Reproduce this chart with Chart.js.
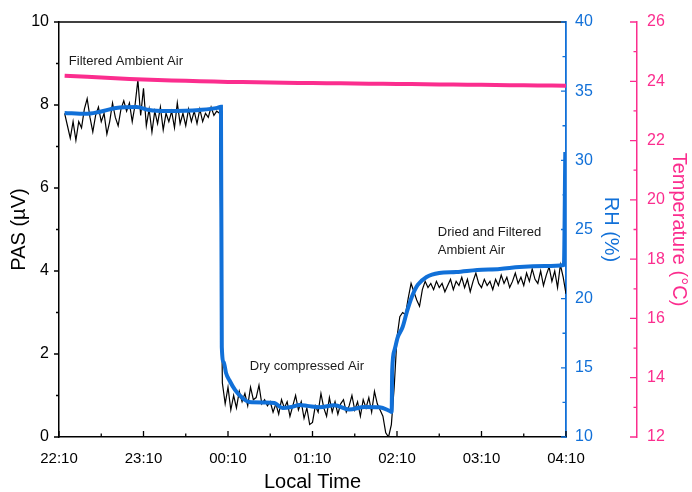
<!DOCTYPE html>
<html>
<head>
<meta charset="utf-8">
<script src="https://cdn.jsdelivr.net/npm/chart.js@4/dist/chart.umd.min.js"></script>
<style>
  body { margin: 0; background: #fff; }
  canvas { display: block; }
</style>
</head>
<body>
<canvas id="pasChart" width="692" height="492"></canvas>
<script>
// Time axis: minutes since 22:10
const timeLabels = ["22:10", "23:10", "00:10", "01:10", "02:10", "03:10", "04:10"];

// PAS signal (µV), one reading every 2 min starting at minute 4
const pasStartMin = 4;
const pasStepMin = 2;
const pasValues = [
  // filtered ambient air
  7.8, 7.5, 7.2, 7.6, 7.15, 7.6, 7.45, 7.9, 8.15, 7.7,
  7.35, 7.75, 7.95, 7.6, 7.8, 7.3, 7.6, 8.05, 7.7, 7.5,
  7.9, 8.1, 7.85, 8.05, 7.6, 8.0, 8.6, 7.75, 8.4, 7.5,
  7.9, 7.35, 7.85, 7.55, 7.95, 7.4, 7.8, 7.6, 7.85, 7.45,
  8.05, 7.55, 7.8, 7.5, 7.9, 7.6, 7.85, 7.55, 7.9, 7.6,
  7.8, 7.7, 7.95, 7.75, 7.85, 7.8,
  // dry compressed air
  1.3, 0.8, 1.2, 0.65, 1.0, 0.7, 1.1, 0.85, 1.05, 0.75,
  1.2, 0.9, 0.95, 1.25, 0.8, 0.9, 0.75, 0.85, 0.6, 0.8,
  0.55, 0.9, 0.7, 0.85, 0.5, 0.75, 1.0, 0.65, 0.85, 0.45,
  0.7, 0.3, 0.35, 0.75, 0.6, 1.05, 0.7, 0.5, 0.95, 0.6,
  0.85, 0.55, 0.8, 0.9, 0.6, 0.75, 1.0, 0.65, 0.85, 0.5,
  0.9, 0.7, 0.95, 0.6, 1.1, 0.8, 0.65, 0.5, 0.1, 0.0,
  0.3,
  // dried and filtered ambient air
  1.2, 2.4, 2.9, 3.0, 2.95, 3.35, 3.7, 3.5, 3.3, 3.15,
  3.55, 3.75, 3.6, 3.7, 3.55, 3.75, 3.6, 3.7, 3.5, 3.65,
  3.8, 3.55, 3.75, 3.65, 3.85, 3.6, 3.8, 3.5, 3.75, 3.95,
  3.7, 3.6, 3.8, 3.65, 3.75, 3.55, 3.8, 3.65, 3.9, 3.7,
  3.85, 3.6, 3.75, 3.95, 3.7, 3.85, 3.65, 3.95, 3.75, 4.05,
  3.8, 3.7, 4.0, 3.65, 3.9, 4.1, 3.75, 4.0, 3.6, 4.15,
  3.85, 3.45,
];

// Relative humidity (%)
const rhTimes = [
  4, 19, 28.5, 40.5, 55, 64, 76, 100, 112.4, 115,
  115.6, 117, 118.6, 121, 125, 128, 131, 135, 146, 153,
  158.7, 165, 170.7, 176.4, 185, 195.6, 206, 217, 227.7, 234.8,
  236.2, 236.6, 238.3, 240.5, 244, 247, 250.5, 254.7, 261, 270,
  282, 297, 313, 327, 345, 358.5, 359.5,
];
const rhValues = [
  33.43, 33.36, 33.5, 33.79, 33.86, 33.64, 33.57, 33.64, 33.79, 33.88,
  16.5, 15.4, 14.63, 14.1, 13.4, 13.04, 12.75, 12.53, 12.5, 12.46,
  12.1, 12.17, 12.31, 12.25, 12.15, 12.3, 11.98, 12.17, 12.15, 11.88,
  11.81, 14.84, 16.3, 17.2, 17.95, 19.04, 20.12, 20.99, 21.57, 21.86,
  21.93, 22.08, 22.15, 22.29, 22.36, 22.44, 30.6,
];

// Temperature (°C)
const tempTimes = [4, 20, 40, 60, 80, 100, 120, 140, 160, 180, 200, 220, 240, 260, 280, 300, 320, 340, 360];
const tempValues = [
  24.19, 24.15, 24.1, 24.06, 24.03, 24.0, 23.98, 23.97, 23.95, 23.94,
  23.93, 23.92, 23.91, 23.9, 23.89, 23.88, 23.87, 23.86, 23.85,
];

// Text notes, anchored at (minute, PAS value)
const notes = [
  { text: "Filtered Ambient Air", t: 7, pas: 9.04 },
  { text: "Dry compressed Air", t: 135.5, pas: 1.71 },
  { text: "Dried and Filtered", t: 269, pas: 4.92 },
  { text: "Ambient Air", t: 269, pas: 4.5 },
];

const BLUE = "#1170d8";
const PINK = "#fb2d8e";
const FONT = "'Liberation Sans', Arial, sans-serif";

Chart.defaults.font.family = FONT;
Chart.defaults.color = "#000";

const pasPoints = pasValues.map((v, i) => ({ x: pasStartMin + i * pasStepMin, y: v }));
const rhPoints = rhTimes.map((t, i) => ({ x: t, y: rhValues[i] }));
const tempPoints = tempTimes.map((t, i) => ({ x: t, y: tempValues[i] }));

// tick marks drawn by hand: inward / outward per axis, with minor ticks
const tickSpecs = [
  { id: "x", step: 30, majorEvery: 60, len: 6, minorLen: 3.5, color: "#000", side: "up" },
  { id: "y", step: 1, majorEvery: 2, len: 5, minorLen: 3, color: "#000", side: "left" },
  { id: "rh", step: 2.5, majorEvery: 5, len: 5, minorLen: 3.5, color: BLUE, side: "left" },
  { id: "temp", step: 1, majorEvery: 2, len: 7, minorLen: 3.5, color: PINK, side: "left" },
];

const axisDecor = {
  id: "axisDecor",
  afterDraw(chart) {
    const { ctx, chartArea, scales } = chart;
    ctx.save();
    // top frame
    ctx.strokeStyle = "#000";
    ctx.lineWidth = 1.5;
    ctx.beginPath();
    ctx.moveTo(chartArea.left, chartArea.top);
    ctx.lineTo(chartArea.right, chartArea.top);
    ctx.stroke();

    tickSpecs.forEach((spec) => {
      const scale = scales[spec.id];
      ctx.strokeStyle = spec.color;
      ctx.lineWidth = 1.3;
      ctx.beginPath();
      for (let v = scale.min; v <= scale.max + 1e-6; v += spec.step) {
        const isMajor = Math.abs((v - scale.min) % spec.majorEvery) < 1e-6;
        const len = isMajor ? spec.len : spec.minorLen;
        const p = scale.getPixelForValue(v);
        if (spec.side === "up") {
          ctx.moveTo(p, scale.top);
          ctx.lineTo(p, scale.top - len);
        } else {
          const x0 = spec.id === "y" ? scale.right : scale.left;
          ctx.moveTo(x0, p);
          ctx.lineTo(x0 - len, p);
        }
      }
      ctx.stroke();
    });

    // notes
    ctx.fillStyle = "#1a1a1a";
    ctx.font = "13px " + FONT;
    ctx.textAlign = "left";
    ctx.textBaseline = "middle";
    notes.forEach((n) => {
      ctx.fillText(n.text, scales.x.getPixelForValue(n.t), scales.y.getPixelForValue(n.pas));
    });
    ctx.restore();
  },
};

new Chart(document.getElementById("pasChart"), {
  type: "line",
  data: {
    datasets: [
      {
        label: "RH",
        data: rhPoints,
        yAxisID: "rh",
        borderColor: BLUE,
        borderWidth: 4,
        pointRadius: 0,
        cubicInterpolationMode: "monotone",
      },
      {
        label: "Temperature",
        data: tempPoints,
        yAxisID: "temp",
        borderColor: PINK,
        borderWidth: 4,
        pointRadius: 0,
        tension: 0.3,
      },
      {
        label: "PAS",
        data: pasPoints,
        yAxisID: "y",
        borderColor: "#000",
        borderWidth: 1.2,
        pointRadius: 0,
        tension: 0,
      },
    ],
  },
  options: {
    responsive: false,
    animation: false,
    parsing: true,
    layout: { padding: { top: 22, left: 0, right: 0, bottom: 0 } },
    plugins: { legend: { display: false }, tooltip: { enabled: false } },
    scales: {
      x: {
        type: "linear",
        min: 0,
        max: 360,
        afterFit: (s) => { s.height = 55; },
        grid: { display: false, drawTicks: false },
        border: { color: "#000", width: 1.5 },
        ticks: {
          stepSize: 60,
          autoSkip: false,
          maxRotation: 0,
          padding: 13,
          font: { size: 15 },
          callback: (v) => timeLabels[v / 60],
        },
        title: {
          display: true,
          text: "Local Time",
          font: { size: 20, lineHeight: 1 },
          padding: { top: 0, bottom: 0 },
        },
      },
      y: {
        position: "left",
        min: 0,
        max: 10,
        afterFit: (s) => { s.width = 59; },
        grid: { display: false, drawTicks: false },
        border: { color: "#000", width: 1.5 },
        ticks: { stepSize: 2, padding: 10, font: { size: 16 } },
        title: {
          display: true,
          text: "PAS (µV)",
          font: { size: 20, lineHeight: 1 },
          padding: { top: 9, bottom: 0 },
        },
      },
      rh: {
        position: "right",
        weight: 0,
        min: 10,
        max: 40,
        afterFit: (s) => { s.width = 71; },
        grid: { display: false, drawTicks: false },
        border: { color: BLUE, width: 1.8 },
        ticks: { stepSize: 5, padding: 9, color: BLUE, font: { size: 16 } },
        title: {
          display: true,
          text: "RH (%)",
          color: BLUE,
          font: { size: 20, lineHeight: 1 },
          padding: { top: 16, bottom: 0 },
        },
      },
      temp: {
        position: "right",
        weight: 1,
        min: 12,
        max: 26,
        afterFit: (s) => { s.width = 55; },
        grid: { display: false, drawTicks: false },
        border: { color: PINK, width: 1.5 },
        ticks: { stepSize: 2, padding: 10, color: PINK, font: { size: 16 } },
        title: {
          display: true,
          text: "Temperature (°C)",
          color: PINK,
          font: { size: 20, lineHeight: 1 },
          padding: { top: 3, bottom: 0 },
        },
      },
    },
  },
  plugins: [axisDecor],
});
</script>
</body>
</html>
